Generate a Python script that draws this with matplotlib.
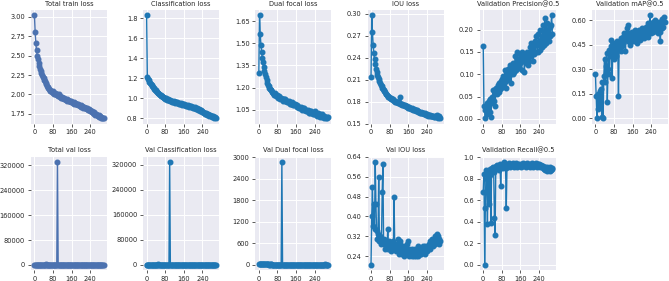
import numpy as np
import matplotlib
matplotlib.use("Agg")
import matplotlib.pyplot as plt

EPOCH_STEP = 3  # one value every 3 epochs, 0..297

total_train_loss = [
    3.02, 2.81, 2.66, 2.57, 2.50, 2.46, 2.41, 2.37, 2.33, 2.30,
    2.28, 2.25, 2.23, 2.21, 2.19, 2.17, 2.15, 2.13, 2.11, 2.10,
    2.08, 2.07, 2.05, 2.06, 2.04, 2.03, 2.04, 2.02, 2.01, 2.02,
    2.00, 2.01, 1.99, 2.00, 1.98, 2.00, 1.97, 1.98, 1.96, 1.97,
    1.95, 1.96, 1.94, 1.95, 1.94, 1.93, 1.94, 1.92, 1.93, 1.92,
    1.91, 1.92, 1.90, 1.91, 1.90, 1.89, 1.90, 1.88, 1.89, 1.88,
    1.87, 1.88, 1.86, 1.87, 1.86, 1.85, 1.86, 1.84, 1.85, 1.84,
    1.83, 1.84, 1.82, 1.83, 1.82, 1.81, 1.82, 1.80, 1.81, 1.80,
    1.79, 1.78, 1.79, 1.77, 1.76, 1.77, 1.75, 1.74, 1.75, 1.73,
    1.74, 1.72, 1.73, 1.71, 1.72, 1.70, 1.71, 1.69, 1.70, 1.69,
]
classification_loss = [
    1.83, 1.21, 1.19, 1.18, 1.16, 1.15, 1.14, 1.13, 1.12, 1.11,
    1.10, 1.09, 1.08, 1.08, 1.07, 1.06, 1.05, 1.05, 1.04, 1.03,
    1.03, 1.02, 1.02, 1.01, 1.01, 1.00, 1.00, 0.99, 1.00, 0.98,
    0.99, 0.98, 0.98, 0.97, 0.98, 0.97, 0.96, 0.97, 0.96, 0.97,
    0.96, 0.95, 0.96, 0.95, 0.96, 0.95, 0.94, 0.95, 0.94, 0.95,
    0.94, 0.93, 0.94, 0.93, 0.94, 0.93, 0.92, 0.93, 0.92, 0.93,
    0.92, 0.91, 0.92, 0.91, 0.92, 0.91, 0.90, 0.91, 0.90, 0.91,
    0.90, 0.89, 0.90, 0.89, 0.88, 0.89, 0.88, 0.87, 0.88, 0.87,
    0.86, 0.86, 0.85, 0.85, 0.84, 0.85, 0.84, 0.83, 0.84, 0.83,
    0.82, 0.83, 0.82, 0.82, 0.81, 0.82, 0.81, 0.80, 0.81, 0.80,
]
dual_focal_loss = [
    1.30, 1.69, 1.56, 1.49, 1.44, 1.40, 1.37, 1.34, 1.31, 1.29,
    1.27, 1.25, 1.23, 1.22, 1.21, 1.20, 1.19, 1.18, 1.18, 1.17,
    1.16, 1.16, 1.15, 1.16, 1.15, 1.14, 1.15, 1.14, 1.13, 1.14,
    1.13, 1.12, 1.13, 1.12, 1.12, 1.11, 1.12, 1.11, 1.12, 1.11,
    1.10, 1.11, 1.10, 1.11, 1.09, 1.10, 1.09, 1.10, 1.09, 1.08,
    1.09, 1.08, 1.09, 1.08, 1.07, 1.08, 1.07, 1.06, 1.07, 1.06,
    1.07, 1.06, 1.05, 1.06, 1.05, 1.06, 1.05, 1.04, 1.05, 1.04,
    1.05, 1.04, 1.03, 1.04, 1.03, 1.04, 1.03, 1.02, 1.03, 1.02,
    1.04, 1.02, 1.03, 1.01, 1.02, 1.03, 1.01, 1.02, 1.00, 1.01,
    1.02, 1.00, 1.01, 0.99, 1.01, 1.00, 0.99, 1.00, 0.99, 1.00,
]
iou_loss = [
    0.213, 0.298, 0.275, 0.258, 0.246, 0.238, 0.231, 0.225, 0.221, 0.217,
    0.214, 0.211, 0.208, 0.205, 0.203, 0.201, 0.199, 0.197, 0.196, 0.194,
    0.193, 0.191, 0.190, 0.189, 0.188, 0.187, 0.186, 0.185, 0.184, 0.185,
    0.183, 0.182, 0.183, 0.181, 0.180, 0.181, 0.179, 0.180, 0.179, 0.178,
    0.179, 0.177, 0.187, 0.177, 0.176, 0.177, 0.175, 0.176, 0.174, 0.175,
    0.174, 0.173, 0.174, 0.172, 0.173, 0.171, 0.172, 0.170, 0.171, 0.170,
    0.169, 0.170, 0.168, 0.169, 0.168, 0.167, 0.168, 0.166, 0.167, 0.166,
    0.165, 0.166, 0.165, 0.164, 0.165, 0.164, 0.163, 0.164, 0.163, 0.162,
    0.163, 0.162, 0.161, 0.162, 0.161, 0.162, 0.160, 0.161, 0.160, 0.161,
    0.159, 0.160, 0.159, 0.160, 0.162, 0.159, 0.158, 0.160, 0.159, 0.158,
]
val_precision = [
    0.163, 0.030, 0.020, 0.001, 0.025, 0.010, 0.035, 0.020, 0.040, 0.015,
    0.045, 0.004, 0.050, 0.035, 0.064, 0.040, 0.065, 0.030, 0.060, 0.070,
    0.055, 0.075, 0.060, 0.080, 0.068, 0.085, 0.070, 0.090, 0.075, 0.095,
    0.080, 0.110, 0.085, 0.070, 0.100, 0.090, 0.112, 0.095, 0.105, 0.120,
    0.080, 0.115, 0.100, 0.125, 0.105, 0.120, 0.140, 0.110, 0.150, 0.120,
    0.135, 0.115, 0.145, 0.125, 0.140, 0.110, 0.150, 0.130, 0.145, 0.105,
    0.140, 0.125, 0.150, 0.135, 0.120, 0.145, 0.130, 0.160, 0.140, 0.170,
    0.150, 0.130, 0.165, 0.145, 0.175, 0.150, 0.185, 0.165, 0.150, 0.190,
    0.170, 0.155, 0.200, 0.175, 0.160, 0.210, 0.185, 0.165, 0.225, 0.190,
    0.170, 0.215, 0.180, 0.200, 0.175, 0.205, 0.185, 0.210, 0.232, 0.190,
]
val_map = [
    0.27, 0.14, 0.00, 0.15, 0.06, 0.13, 0.17, 0.08, 0.18, 0.01,
    0.22, 0.00, 0.26, 0.36, 0.22, 0.32, 0.40, 0.10, 0.30, 0.42,
    0.27, 0.38, 0.44, 0.48, 0.25, 0.46, 0.36, 0.43, 0.40, 0.46,
    0.38, 0.47, 0.42, 0.14, 0.44, 0.47, 0.41, 0.49, 0.44, 0.50,
    0.46, 0.52, 0.48, 0.41, 0.50, 0.55, 0.47, 0.57, 0.49, 0.52,
    0.45, 0.51, 0.48, 0.53, 0.47, 0.52, 0.49, 0.54, 0.50, 0.46,
    0.52, 0.49, 0.54, 0.51, 0.48, 0.53, 0.50, 0.55, 0.52, 0.49,
    0.54, 0.51, 0.56, 0.52, 0.55, 0.50, 0.58, 0.54, 0.63, 0.52,
    0.57, 0.54, 0.59, 0.53, 0.57, 0.55, 0.60, 0.54, 0.58, 0.52,
    0.56, 0.59, 0.53, 0.47, 0.58, 0.55, 0.61, 0.56, 0.62, 0.59,
]
total_val_loss = [
    38.5, 31.2, 26.4, 22.9, 29.7, 19.8, 24.3, 17.6, 21.5, 16.2,
    18.9, 14.7, 20.3, 15.8, 13.9, 17.2, 12.6, 4210.0, 14.1, 11.8,
    13.5, 4.3, 3.9, 4.1, 3.7, 4.0, 3.6, 3.8, 3.5, 3.7,
    3.4, 3.6, 3.5, 332000.0, 3.4, 3.3, 3.5, 3.2, 3.4, 3.3,
    3.1, 3.3, 3.2, 3.0, 3.2, 3.1, 3.0, 3.1, 2.9, 3.0,
    3.1, 2.9, 3.0, 2.9, 2.8, 3.0, 2.9, 2.8, 2.9, 2.8,
    2.7, 2.9, 2.8, 2.7, 2.8, 2.7, 2.9, 2.8, 2.7, 2.8,
    2.9, 2.8, 2.7, 2.9, 2.8, 3.0, 2.9, 2.8, 3.0, 2.9,
    3.0, 2.9, 3.1, 3.0, 2.9, 3.1, 3.0, 3.2, 3.1, 3.0,
    3.2, 3.1, 3.3, 3.2, 3.1, 24.6, 3.3, 3.2, 3.4, 3.3,
]
val_classification_loss = [
    2.4, 2.3, 2.2, 2.3, 2.1, 2.2, 2.1, 2.0, 2.1, 2.0,
    2.0, 1.9, 2.0, 1.9, 1.9, 1.8, 1.9, 4050.0, 1.8, 1.8,
    1.9, 1.8, 1.7, 1.8, 1.7, 1.8, 1.7, 1.7, 1.6, 1.7,
    1.6, 1.7, 1.6, 329000.0, 1.6, 1.5, 1.6, 1.5, 1.6, 1.5,
    1.5, 1.6, 1.5, 1.4, 1.5, 1.4, 1.5, 1.4, 1.4, 1.5,
    1.4, 1.4, 1.3, 1.4, 1.3, 1.4, 1.3, 1.3, 1.4, 1.3,
    1.3, 1.4, 1.3, 1.3, 1.4, 1.3, 1.4, 1.3, 1.4, 1.4,
    1.5, 1.4, 1.4, 1.5, 1.4, 1.5, 1.5, 1.4, 1.5, 1.5,
    1.6, 1.5, 1.6, 1.5, 1.6, 1.6, 1.5, 1.7, 1.6, 1.6,
    1.7, 1.6, 1.7, 1.7, 1.6, 1.7, 1.8, 1.7, 1.8, 1.7,
]
val_dual_focal_loss = [
    35.0, 28.0, 23.0, 20.0, 27.0, 17.0, 22.0, 15.0, 19.0, 14.0,
    16.0, 12.0, 18.0, 13.0, 11.0, 15.0, 10.0, 30.0, 12.0, 9.0,
    11.0, 1.3, 1.2, 1.3, 1.2, 1.3, 1.2, 1.2, 1.2, 1.2,
    1.1, 1.2, 1.2, 2870.0, 1.1, 1.2, 1.1, 1.1, 1.2, 1.1,
    1.1, 1.1, 1.1, 1.1, 1.1, 1.1, 1.0, 1.1, 1.0, 1.0,
    1.1, 1.0, 1.0, 1.0, 1.0, 1.0, 1.0, 1.0, 1.0, 1.0,
    1.0, 1.0, 1.0, 1.0, 1.0, 1.0, 1.0, 1.0, 1.0, 1.0,
    1.0, 1.0, 1.0, 1.0, 1.0, 1.0, 1.0, 1.0, 1.0, 1.0,
    1.0, 1.0, 1.0, 1.0, 1.0, 1.0, 1.0, 1.0, 1.0, 1.0,
    1.0, 1.0, 1.0, 1.0, 1.0, 22.0, 1.0, 1.0, 1.0, 1.0,
]
val_iou_loss = [
    0.205, 0.40, 0.52, 0.36, 0.45, 0.35, 0.62, 0.45, 0.34, 0.31,
    0.33, 0.56, 0.30, 0.32, 0.29, 0.31, 0.50, 0.61, 0.29, 0.31,
    0.27, 0.30, 0.28, 0.29, 0.35, 0.27, 0.30, 0.28, 0.26, 0.29,
    0.27, 0.30, 0.28, 0.48, 0.27, 0.29, 0.26, 0.28, 0.31, 0.27,
    0.25, 0.29, 0.30, 0.26, 0.28, 0.25, 0.27, 0.24, 0.28, 0.26,
    0.25, 0.29, 0.26, 0.30, 0.24, 0.27, 0.25, 0.26, 0.24, 0.27,
    0.25, 0.26, 0.24, 0.27, 0.25, 0.24, 0.26, 0.28, 0.24, 0.26,
    0.25, 0.27, 0.25, 0.26, 0.28, 0.26, 0.27, 0.25, 0.28, 0.27,
    0.26, 0.28, 0.27, 0.29, 0.27, 0.30, 0.28, 0.29, 0.31, 0.28,
    0.30, 0.32, 0.29, 0.31, 0.33, 0.30, 0.32, 0.29, 0.31, 0.30,
]
val_recall = [
    0.68, 0.85, 0.00, 0.53, 0.88, 0.80, 0.38, 0.86, 0.57, 0.84,
    0.89, 0.39, 0.90, 0.88, 0.91, 0.86, 0.44, 0.28, 0.92, 0.89,
    0.93, 0.90, 0.92, 0.88, 0.94, 0.73, 0.91, 0.93, 0.90, 0.94,
    0.96, 0.92, 0.90, 0.53, 0.91, 0.94, 0.92, 0.95, 0.93, 0.91,
    0.94, 0.92, 0.95, 0.93, 0.91, 0.94, 0.92, 0.95, 0.93, 0.91,
    0.94, 0.92, 0.94, 0.93, 0.91, 0.94, 0.92, 0.95, 0.93, 0.92,
    0.94, 0.91, 0.93, 0.95, 0.92, 0.94, 0.93, 0.91, 0.94, 0.92,
    0.95, 0.93, 0.91, 0.94, 0.92, 0.95, 0.93, 0.91, 0.94, 0.92,
    0.94, 0.93, 0.91, 0.93, 0.92, 0.90, 0.92, 0.89, 0.91, 0.88,
    0.90, 0.87, 0.91, 0.88, 0.90, 0.87, 0.91, 0.88, 0.90, 0.89,
]

SEABORN_BLUE = '#4C72B0'
MPL_BLUE = '#1f77b4'

# (title, values, colour, yticks, label format) in grid order
panels = [
    ('Total train loss', total_train_loss, SEABORN_BLUE, [1.75, 2.00, 2.25, 2.50, 2.75, 3.00], '{:.2f}'),
    ('Classification loss', classification_loss, MPL_BLUE, [0.8, 1.0, 1.2, 1.4, 1.6, 1.8], '{:.1f}'),
    ('Dual focal loss', dual_focal_loss, MPL_BLUE, [1.05, 1.20, 1.35, 1.50, 1.65], '{:.2f}'),
    ('IOU loss', iou_loss, MPL_BLUE, [0.15, 0.18, 0.21, 0.24, 0.27, 0.30], '{:.2f}'),
    ('Validation Precision@0.5', val_precision, MPL_BLUE, [0.00, 0.05, 0.10, 0.15, 0.20], '{:.2f}'),
    ('Validation mAP@0.5', val_map, MPL_BLUE, [0.00, 0.15, 0.30, 0.45, 0.60], '{:.2f}'),
    ('Total val loss', total_val_loss, SEABORN_BLUE, [0, 80000, 160000, 240000, 320000], '{:.0f}'),
    ('Val Classification loss', val_classification_loss, MPL_BLUE, [0, 80000, 160000, 240000, 320000], '{:.0f}'),
    ('Val Dual focal loss', val_dual_focal_loss, MPL_BLUE, [0, 600, 1200, 1800, 2400, 3000], '{:.0f}'),
    ('Val IOU loss', val_iou_loss, MPL_BLUE, [0.24, 0.32, 0.40, 0.48, 0.56, 0.64], '{:.2f}'),
    ('Validation Recall@0.5', val_recall, MPL_BLUE, [0.0, 0.2, 0.4, 0.6, 0.8, 1.0], '{:.1f}'),
]
xticks = [0, 80, 160, 240]

plt.rcParams.update({
    'font.family': 'DejaVu Sans',
    'font.size': 4.8,
    'axes.facecolor': '#EAEAF2',
    'axes.edgecolor': 'white',
    'axes.linewidth': 0,
    'grid.color': 'white',
    'grid.linewidth': 0.7,
    'xtick.color': '0.25',
    'ytick.color': '0.25',
    'xtick.labelcolor': '0.15',
    'ytick.labelcolor': '0.15',
    'xtick.major.size': 2.2,
    'ytick.major.size': 2.2,
    'xtick.major.width': 0.6,
    'ytick.major.width': 0.6,
    'xtick.major.pad': 2.0,
    'ytick.major.pad': 2.0,
    'axes.titlesize': 4.8,
    'axes.titlepad': 3.0,
    'text.color': '0.15',
})

fig, axes = plt.subplots(2, 6, figsize=(6.69, 2.81), dpi=100)
fig.subplots_adjust(left=0.0463, right=0.9985, bottom=0.039, top=0.964,
                    wspace=0.476, hspace=0.29)

for ax, (title, values, color, yticks, fmt) in zip(axes.flat, panels):
    x = np.arange(len(values)) * EPOCH_STEP
    ax.plot(x, values, '-o', color=color, linewidth=1.0, markersize=3.3)
    ax.set_title(title)
    ax.set_xticks(xticks)
    ax.set_yticks(yticks)
    ax.set_yticklabels([fmt.format(v) for v in yticks])
    ax.grid(True)
    ax.set_axisbelow(True)
    for side in ax.spines.values():
        side.set_visible(False)

axes[1, 5].axis('off')

fig.savefig('out.png', dpi=100)
